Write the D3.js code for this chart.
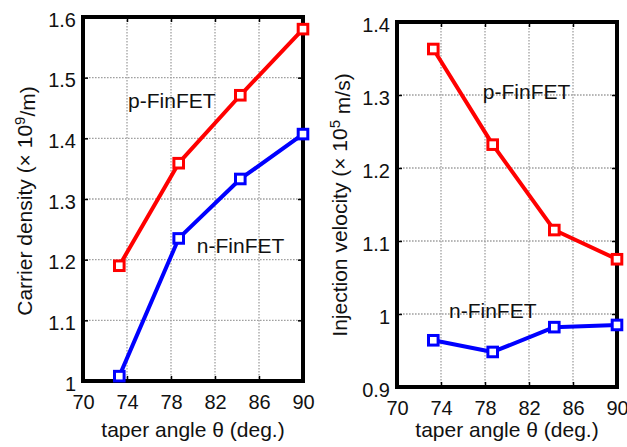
<!DOCTYPE html>
<html><head><meta charset="utf-8">
<script src="https://cdn.jsdelivr.net/npm/d3@7"></script>
<style>body{margin:0;background:#fff}svg{display:block}text{font-family:Arial,"Liberation Sans",sans-serif;fill:#111}</style>
</head><body><svg id="c" width="627" height="447"></svg>
<script>
const angles = [73.3, 78.7, 84.3, 90];
const carrierP = [1.19, 1.359, 1.471, 1.58];
const carrierN = [1.008, 1.235, 1.333, 1.407];
const velocityP = [1.363, 1.232, 1.115, 1.075];
const velocityN = [0.964, 0.948, 0.982, 0.985];
const xTicks = [70, 74, 78, 82, 86, 90];
const carrierTicks = [1, 1.1, 1.2, 1.3, 1.4, 1.5, 1.6];
const velocityTicks = [0.9, 1, 1.1, 1.2, 1.3, 1.4];
const xTitle = "taper angle θ (deg.)";

const svg = d3.select("#c");

function panel(o) {
  const x = d3.scaleLinear().domain([70, 90]).range([o.x0, o.x1]);
  const y = d3.scaleLinear().domain(o.yDomain).range([o.y1, o.y0]);
  const g = svg.append("g");
  const grid = g.append("g").attr("stroke", "#a0a0a0").attr("stroke-width", 1.3).attr("stroke-dasharray", "1.6,1.4");
  xTicks.slice(1, -1).forEach(t => grid.append("line").attr("x1", x(t)).attr("x2", x(t)).attr("y1", o.y0).attr("y2", o.y1));
  o.yTicks.slice(1, -1).forEach(t => grid.append("line").attr("x1", o.x0).attr("x2", o.x1).attr("y1", y(t)).attr("y2", y(t)));
  const ax = d3.axisBottom(x).tickValues(xTicks).tickSize(-5).tickFormat(d3.format("d"));
  const gb = g.append("g").attr("transform", `translate(0,${o.y1})`).call(ax);
  gb.selectAll("text").attr("font-size", 20).attr("dy", "0.71em").attr("y", 14);
  const gt = g.append("g").attr("transform", `translate(0,${o.y0})`).call(d3.axisTop(x).tickValues(xTicks).tickSize(-5).tickFormat(""));
  const ay = d3.axisLeft(y).tickValues(o.yTicks).tickSize(-5).tickPadding(7).tickFormat(d => d3.format("")(+d.toFixed(1)));
  const gl = g.append("g").attr("transform", `translate(${o.x0},0)`).call(ay);
  gl.selectAll("text").attr("font-size", 20).attr("dy", "0.45em");
  const gr = g.append("g").attr("transform", `translate(${o.x1},0)`).call(d3.axisRight(y).tickValues(o.yTicks).tickSize(-5).tickFormat(""));
  [gb, gt, gl, gr].forEach(a => { a.select(".domain").remove(); a.selectAll(".tick line").attr("stroke", "#000").attr("stroke-width", 1.5); a.selectAll("text").attr("fill", "#111"); });
  g.append("rect").attr("x", o.x0).attr("y", o.y0).attr("width", o.x1 - o.x0).attr("height", o.y1 - o.y0)
    .attr("fill", "none").attr("stroke", "#000").attr("stroke-width", 4);
  o.series.forEach(s => {
    const pts = angles.map((a, i) => [a, s.values[i]]);
    g.append("path").datum(pts).attr("fill", "none").attr("stroke", s.color).attr("stroke-width", 4)
      .attr("stroke-linejoin", "round").attr("d", d3.line().x(d => x(d[0])).y(d => y(d[1])));
    g.selectAll(null).data(pts).enter().append("rect")
      .attr("x", d => x(d[0]) - 4.8).attr("y", d => y(d[1]) - 4.8).attr("width", 9.6).attr("height", 9.6)
      .attr("fill", "#fff").attr("stroke", s.color).attr("stroke-width", 3);
    g.append("text").attr("x", x(s.label[0])).attr("y", y(s.label[1])).attr("font-size", 21).text(s.name);
  });
  g.append("text").attr("x", (o.x0 + o.x1) / 2).attr("y", 437).attr("text-anchor", "middle").attr("font-size", 21).text(xTitle);
  const yt = g.append("text").attr("transform", `translate(${o.ytX},${o.ytY}) rotate(-90)`).attr("text-anchor", "middle").attr("font-size", 21);
  yt.append("tspan").text(o.yTitle[0]);
  yt.append("tspan").attr("dy", "-0.45em").attr("font-size", 15).text(o.yTitle[1]);
  yt.append("tspan").attr("dy", "0.45em").text(o.yTitle[2]);
}

panel({
  x0: 83, x1: 303, y0: 17, y1: 381, yDomain: [1, 1.6], yTicks: carrierTicks,
  ytX: 32, ytY: 201, yTitle: ["Carrier density (× 10", "9", "/m)"],
  series: [
    {name: "p-FinFET", color: "#ff0000", values: carrierP, label: [74.1, 1.45]},
    {name: "n-FinFET", color: "#0000ff", values: carrierN, label: [80.35, 1.211]}
  ]
});
panel({
  x0: 397, x1: 617, y0: 22, y1: 387, yDomain: [0.9, 1.4], yTicks: velocityTicks,
  ytX: 347, ytY: 205, yTitle: ["Injection velocity (× 10", "5", " m/s)"],
  series: [
    {name: "p-FinFET", color: "#ff0000", values: velocityP, label: [77.8, 1.2945]},
    {name: "n-FinFET", color: "#0000ff", values: velocityN, label: [74.73, 0.9945]}
  ]
});
</script></body></html>
